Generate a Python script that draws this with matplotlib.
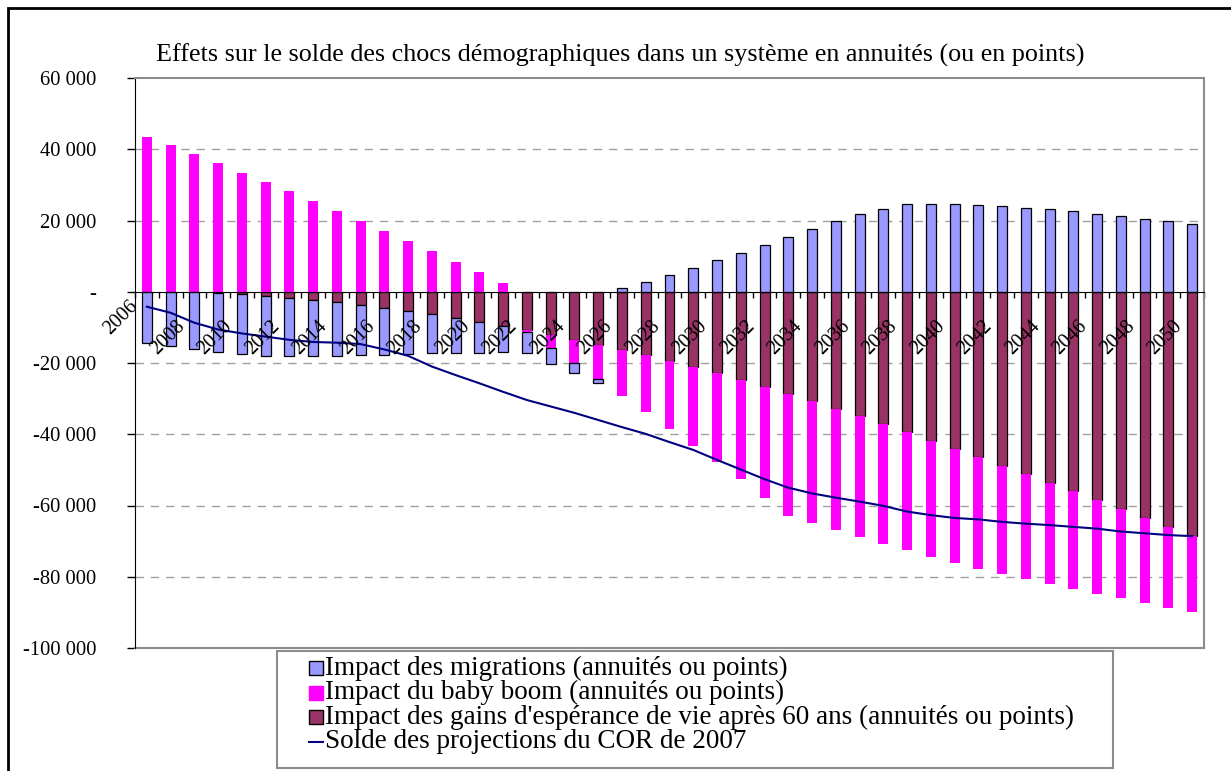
import numpy as np
import matplotlib
matplotlib.use("Agg")
import matplotlib.pyplot as plt
from matplotlib.patches import Rectangle
from matplotlib.lines import Line2D

plt.rcParams['font.family'] = ['Liberation Serif', 'DejaVu Serif']

years = list(range(2006, 2051))

# impact des migrations (annuités ou points)
migrations = [-14500, -15200, -16100, -16600, -16850, -16850, -16300, -15600, -15000, -14200,
              -13100, -12000, -11000, -9800, -8500, -7300, -5800, -4400, -2800, -1050,
              960, 2800, 4800, 6800, 8800, 11000, 13100, 15300, 17500, 19800,
              21900, 23300, 24700, 24700, 24500, 24400, 24100, 23600, 23100, 22600,
              21900, 21300, 20500, 19800, 19100]
# impact du baby boom
baby_boom = [43400, 41200, 38700, 36200, 33400, 30800, 28300, 25500, 22700, 19900,
             17000, 14300, 11400, 8400, 5500, 2500, -560, -3600, -6550, -9600,
             -12850, -15850, -19100, -22000, -25100, -27900, -31200, -34300, -34200, -34100,
             -33900, -33600, -33000, -32600, -31900, -31350, -30400, -29400, -28400, -27400,
             -26500, -25000, -23900, -22700, -21250]
# impact des gains d'espérance de vie après 60 ans
esperance = [0, 0, 0, -300, -700, -1200, -1750, -2300, -2950, -3600,
             -4650, -5500, -6250, -7450, -8600, -9500, -10750, -12150, -13550, -14950,
             -16350, -17800, -19400, -21200, -22800, -24800, -26650, -28600, -30600, -32800,
             -34900, -37100, -39500, -41800, -44150, -46500, -48800, -51150, -53600, -55950,
             -58350, -60900, -63400, -65950, -68550]
# solde des projections du COR de 2007
solde_cor = [-4200, -5900, -8700, -10600, -11700, -12600, -13500, -14100, -14300, -14700,
             -16200, -18000, -21000, -23400, -25700, -28100, -30400, -32200, -34000, -36000,
             -38000, -39900, -42200, -44400, -47200, -49900, -52600, -55000, -56600, -57800,
             -58900, -60100, -61700, -62700, -63500, -63900, -64600, -65100, -65500, -66000,
             -66500, -67300, -67800, -68300, -68600]

labels = ["Impact des migrations (annuités ou points)",
          "Impact du baby boom (annuités ou points)",
          "Impact des gains d'espérance de vie après 60 ans (annuités ou points)",
          "Solde des projections du COR de 2007"]
title = "Effets sur le solde des chocs démographiques dans un système en annuités (ou en points)"

c_mig = '#9999ff'
c_bb = '#ff00ff'
c_ev = '#993366'
c_line = '#000080'
gray = '#8c8c8c'

W, H = 1231, 771
fig = plt.figure(figsize=(W / 100, H / 100), dpi=100)


def fx(px):
    return px / W


def fy(py):
    return 1 - py / H


ax = fig.add_axes([fx(135), fy(648), fx(1204) - fx(135), fy(78) - fy(648)])

x = np.arange(len(years))
pos = np.zeros(len(years))
neg = np.zeros(len(years))
series = [(esperance, c_ev, 'black', 0.9),
          (baby_boom, c_bb, 'none', 0),
          (migrations, c_mig, 'black', 0.9)]
for vals, col, ec, lw in series:
    v = np.array(vals, dtype=float)
    bottom = np.where(v < 0, neg, pos)
    ax.bar(x, v, bottom=bottom, width=0.42, color=col, edgecolor=ec, linewidth=lw, zorder=3)
    neg += np.minimum(v, 0)
    pos += np.maximum(v, 0)

ax.plot(x, solde_cor, color=c_line, lw=1.5, zorder=5)

# grid
for g in [40000, 20000, -20000, -40000, -60000, -80000]:
    ax.axhline(g, color='#a0a0a0', lw=1, ls=(0, (6, 5)), zorder=1)

ax.set_xlim(-0.5, len(years) - 0.5)
ax.set_ylim(-100000, 60000)
ax.set_yticks(range(-100000, 60001, 20000))
ax.set_yticklabels(['-' if v == 0 else f"{v:,}".replace(',', ' ') for v in range(-100000, 60001, 20000)])
ax.tick_params(axis='y', direction='out', length=6, width=1, pad=22, labelsize=14.8)

ax.spines['bottom'].set_position(('data', 0))
ax.spines['bottom'].set_color('black')
ax.spines['bottom'].set_zorder(4)
ax.set_xticks(np.arange(len(years) + 1) - 0.5)
ax.set_xticklabels([])
ax.tick_params(axis='x', direction='out', length=4, width=1)
for s in ['top', 'right']:
    ax.spines[s].set_color(gray)
    ax.spines[s].set_linewidth(1.5)
ax.axhline(-100000, color=gray, lw=1.5, clip_on=False, zorder=2)

for i, yr in enumerate(years):
    if yr % 2 == 0:
        # the first label sits higher, next to the value axis
        xo, yo = (i - 0.2, -1500) if i == 0 else (i - 0.25, -7000)
        ax.text(xo, yo, str(yr), rotation=45, ha='right', va='top',
                fontsize=14.4, zorder=6)

fig.text(fx(620), fy(55), title, ha='center', va='center', fontsize=18.8)

# figure frame
fig.add_artist(Rectangle((fx(8), fy(790)), fx(1260) - fx(8), fy(8) - fy(790),
                         transform=fig.transFigure, fill=False, edgecolor='black', lw=2))

# legend
lx0, ly0, lx1, ly1 = 277, 651, 1113, 768
fig.add_artist(Rectangle((fx(lx0), fy(ly1)), fx(lx1) - fx(lx0), fy(ly0) - fy(ly1),
                         transform=fig.transFigure, fill=True, facecolor='white',
                         edgecolor=gray, lw=1.5))
rows = [668, 692.5, 717, 741.5]
handles = [(c_mig, 'black'), (c_bb, c_bb), (c_ev, 'black')]
for (col, ec), yy in zip(handles, rows[:3]):
    fig.add_artist(Rectangle((fx(309), fy(yy + 7)), fx(323) - fx(309), fy(yy - 7) - fy(yy + 7),
                             transform=fig.transFigure, facecolor=col, edgecolor=ec, lw=1))
fig.add_artist(Line2D([fx(309), fx(323)], [fy(rows[3]), fy(rows[3])],
                      transform=fig.transFigure, color=c_line, lw=1.5))
for lab, yy in zip(labels, rows):
    fig.text(fx(325), fy(yy), lab, ha='left', va='center', fontsize=19.5)

fig.savefig('out.png', dpi=100)
